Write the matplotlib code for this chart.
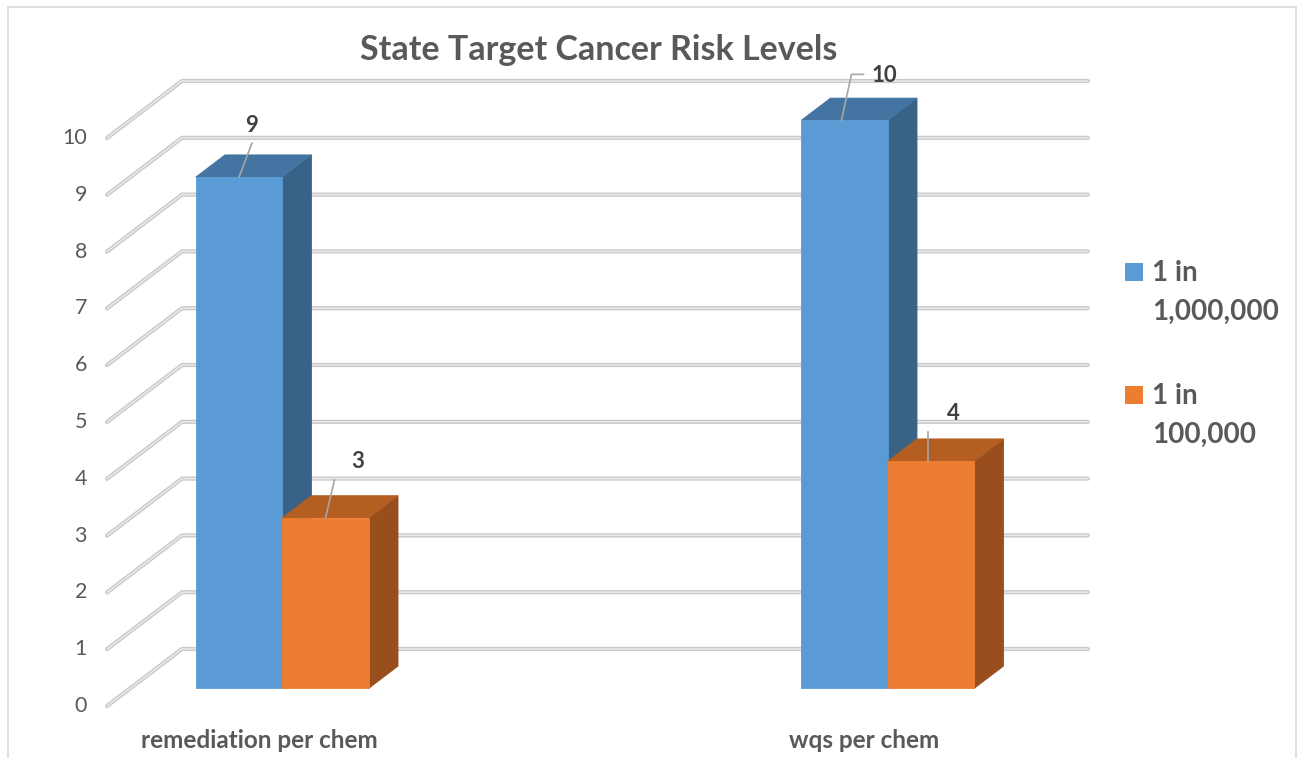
import matplotlib.pyplot as plt
from matplotlib.patches import Polygon, Rectangle

# chart data
categories = ["remediation per chem", "wqs per chem"]
series_names = ["1 in\n1,000,000", "1 in\n100,000"]
one_in_million = [9, 10]
one_in_100k = [3, 4]
value_ticks = list(range(0, 11))
title = "State Target Cancer Risk Levels"

# front / top / side shades for each series
shades = [("#5B9BD5", "#4474A1", "#386386"),
          ("#ED7D31", "#B45E22", "#984E1D")]

plt.rcParams["font.family"] = ["Lato", "DejaVu Sans"]

W, H = 1297, 758
fig = plt.figure(figsize=(W / 100, H / 100), dpi=100, facecolor="white")
ax = fig.add_axes([0, 0, 1, 1])
ax.axis("off")

# x in category units, y in value units
x0, x1 = -0.4277, 1.7143
y0, y1 = -0.9155, 12.43
ax.set_xlim(x0, x1)
ax.set_ylim(y0, y1)
px_x = W / (x1 - x0)
px_y = H / (y1 - y0)

# oblique depth: full depth moves right and up
depth_dx = 75 / px_x
depth_dy = 57 / px_y
floor_left, floor_right = -0.251, 1.245
d0, d1 = 0.31, 0.70
bar_w = 0.1429


def proj(x, v, d):
    return (x + d * depth_dx, v + d * depth_dy)


# back wall gridlines and left wall diagonals
for v in value_ticks:
    pts = [proj(floor_left, v, 0), proj(floor_left, v, 1), proj(floor_right, v, 1)]
    xs, ys = zip(*pts)
    ax.plot(xs, ys, color="#c9c9c9", lw=3.0, solid_capstyle="round", zorder=1)
    ax.plot(xs, ys, color="#ececec", lw=1.0, solid_capstyle="round", zorder=1.1)
    lx, ly = proj(floor_left, v, 0)
    ax.text(lx - 20 / px_x, ly, str(v), ha="right", va="center",
            fontsize=15.5, color="#595959")

# 3D bars
series = [one_in_million, one_in_100k]
anchors = []
for i, cat in enumerate(categories):
    for s, vals in enumerate(series):
        v = vals[i]
        xl = i - bar_w + s * bar_w
        xr = xl + bar_w
        front_c, top_c, side_c = shades[s]
        front = [proj(xl, 0, d0), proj(xr, 0, d0), proj(xr, v, d0), proj(xl, v, d0)]
        top = [proj(xl, v, d0), proj(xr, v, d0), proj(xr, v, d1), proj(xl, v, d1)]
        side = [proj(xr, 0, d0), proj(xr, 0, d1), proj(xr, v, d1), proj(xr, v, d0)]
        for poly, col in ((side, side_c), (top, top_c), (front, front_c)):
            ax.add_patch(Polygon(poly, closed=True, facecolor=col,
                                 edgecolor=col, lw=0.6, zorder=2))
        anchors.append((proj((xl + xr) / 2, v, d0), v))
    ax.text(i, -34 / px_y, cat, ha="center", va="center", fontsize=17.5,
            fontweight="bold", color="#595959")

# data labels with leader lines (offsets in pixels from the bar top)
label_offsets = [(13, 52), (32, 56), (40, 45), (22, 48)]
leaders = [[(0, 0), (13, 34)],
           [(0, 0), (9, 38)],
           [(-3, 0), (7, 46), (19, 46)],
           [(-3, 0), (-3, 29)]]
for ((ax_x, ax_y), v), (ox, oy), path in zip(anchors, label_offsets, leaders):
    xs = [ax_x + px / px_x for px, _ in path]
    ys = [ax_y + py / px_y for _, py in path]
    ax.plot(xs, ys, color="#a6a6a6", lw=1.2, zorder=3)
    ax.text(ax_x + ox / px_x, ax_y + oy / px_y, str(v), ha="center",
            va="center", fontsize=16, fontweight="bold", color="#404040", zorder=4)

# title
fig.text(599 / W, 1 - 50 / H, title, ha="center", va="center", fontsize=24.5,
         fontweight="bold", color="#595959")

# legend
legend_rows = [(281, 320), (404, 443)]
for (b1, b2), name, (col, _, _) in zip(legend_rows, series_names, shades):
    fig.add_artist(Rectangle((1125 / W, 1 - b1 / H), 18 / W, 18 / H,
                             transform=fig.transFigure, facecolor=col,
                             edgecolor="none"))
    first, second = name.split("\n")
    fig.text(1152 / W, 1 - b1 / H, first, ha="left", va="baseline",
             fontsize=20, fontweight="bold", color="#595959")
    fig.text(1152 / W, 1 - b2 / H, second, ha="left", va="baseline",
             fontsize=20, fontweight="bold", color="#595959")

# chart border
fig.add_artist(Rectangle((8 / W, -0.02), 1287.5 / W, 1.02 - 7 / H,
                         transform=fig.transFigure, facecolor="none",
                         edgecolor="#d9d9d9", lw=1.2))

fig.savefig("out.png", dpi=100, facecolor="white")
